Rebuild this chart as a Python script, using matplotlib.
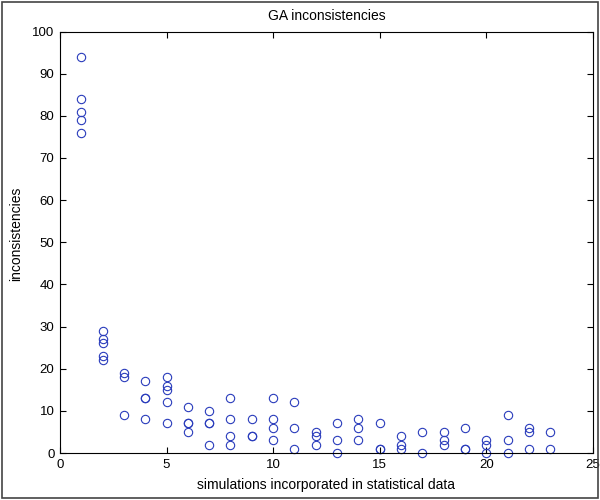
import matplotlib
matplotlib.use('Agg')
import matplotlib.pyplot as plt
from matplotlib.patches import Rectangle

# simulations incorporated (x) and inconsistencies (y)
sims = [1, 1, 1, 1, 1,
        2, 2, 2, 2, 2,
        3, 3, 3,
        4, 4, 4, 4,
        5, 5, 5, 5, 5,
        6, 6, 6, 6,
        7, 7, 7, 7,
        8, 8, 8, 8,
        9, 9, 9,
        10, 10, 10, 10,
        11, 11, 11,
        12, 12, 12,
        13, 13, 13,
        14, 14, 14,
        15, 15, 15,
        16, 16, 16,
        17, 17,
        18, 18, 18,
        19, 19, 19,
        20, 20, 20,
        21, 21, 21,
        22, 22, 22,
        23, 23]
incons = [94, 84, 81, 79, 76,
          29, 27, 26, 23, 22,
          19, 18, 9,
          17, 13, 13, 8,
          18, 16, 15, 12, 7,
          11, 7, 7, 5,
          10, 7, 7, 2,
          13, 8, 4, 2,
          8, 4, 4,
          13, 8, 6, 3,
          12, 6, 1,
          5, 4, 2,
          7, 3, 0,
          8, 6, 3,
          7, 1, 1,
          4, 2, 1,
          5, 0,
          5, 3, 2,
          6, 1, 1,
          3, 2, 0,
          9, 3, 0,
          6, 5, 1,
          5, 1]

plt.rcParams['font.family'] = ['Liberation Sans', 'DejaVu Sans']

fig = plt.figure(figsize=(6, 5), dpi=100)
ax = fig.add_axes([0.1, 0.094, 0.888, 0.843])

ax.plot(sims, incons, 'o', markerfacecolor='none', markeredgecolor='#2a3cbc',
        markersize=6, markeredgewidth=0.8, clip_on=False)

ax.set_xlim(0, 25)
ax.set_ylim(0, 100)
ax.set_xticks(range(0, 26, 5))
ax.set_yticks(range(0, 101, 10))
ax.tick_params(direction='in', top=True, right=True, labelsize=9.5, length=4, pad=4)
ax.set_title('GA inconsistencies', fontsize=10, pad=8)
ax.set_xlabel('simulations incorporated in statistical data', fontsize=10, labelpad=5)
ax.set_ylabel('inconsistencies', fontsize=10, labelpad=8)
ax.yaxis.set_label_coords(-0.07, 0.52)

# figure frame
fig.patches.append(Rectangle((0.004, 0.004), 0.992, 0.992, transform=fig.transFigure,
                             fill=False, edgecolor='#444444', linewidth=1.2))

fig.savefig('out.png', dpi=100)
